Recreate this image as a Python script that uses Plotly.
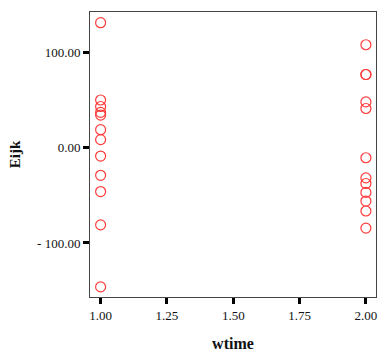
import plotly.graph_objects as go

x_w1 = [1.0] * 12
y_w1 = [130.8, 49.8, 43.0, 36.8, 34.0, 18.7, 8.3, -8.9, -29.1, -46.1, -81.0, -146.0]
x_w2 = [2.0] * 12
y_w2 = [107.7, 76.5, 76.5, 47.8, 40.9, -10.7, -31.8, -37.7, -47.0, -56.1, -66.5, -84.4]

x_tickvals = [1.0, 1.25, 1.5, 1.75, 2.0]
x_ticktext = ["1.00", "1.25", "1.50", "1.75", "2.00"]
y_tickvals = [-100, 0, 100]
y_ticktext = ["- 100.00", "0.00", "100.00"]

fig = go.Figure()
fig.add_trace(go.Scatter(
    x=x_w1 + x_w2, y=y_w1 + y_w2, mode="markers",
    marker=dict(symbol="circle-open", size=10, color="#ff3b3b", line=dict(width=1.2)),
    showlegend=False, hoverinfo="skip",
))

font = dict(family="Liberation Serif, Times New Roman, serif", color="#111", size=13)
fig.update_layout(
    width=380, height=353,
    margin=dict(l=90, r=3, t=12, b=54),
    paper_bgcolor="white", plot_bgcolor="white",
    font=font,
    xaxis=dict(
        range=[0.96, 2.038], tickvals=x_tickvals, ticktext=x_ticktext,
        showgrid=False, zeroline=False,
        showline=True, linecolor="#444", linewidth=1, mirror=True,
        ticks="outside", ticklen=6, tickwidth=3, tickcolor="black",
        title=dict(text="<b>wtime</b>", font=dict(size=16), standoff=16),
    ),
    yaxis=dict(
        range=[-156.6, 142], tickvals=y_tickvals, ticktext=y_ticktext,
        showgrid=False, zeroline=False,
        showline=True, linecolor="#444", linewidth=1, mirror=True,
        ticks="outside", ticklen=6, tickwidth=3, tickcolor="black",
        title=dict(text="<b>Eijk</b>", font=dict(size=15), standoff=12),
    ),
)
fig.write_html(
    "out.html",
    config={"displayModeBar": False},
    post_script="document.body.style.margin='0';document.body.style.overflow='hidden';",
)
